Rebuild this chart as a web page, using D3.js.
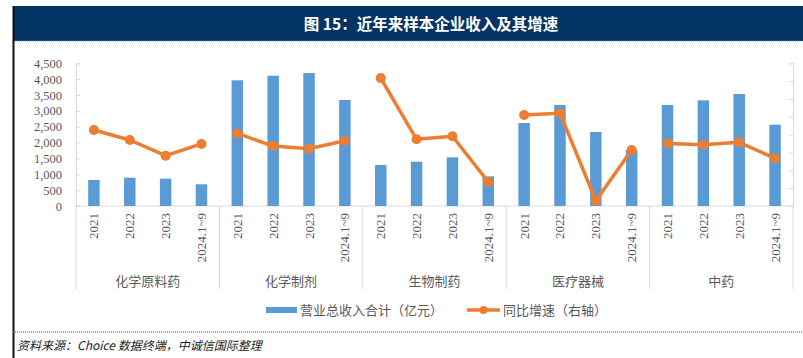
<!DOCTYPE html>
<html><head><meta charset="utf-8">
<script src="https://cdn.jsdelivr.net/npm/d3@7"></script>
<style>body{margin:0;background:#fff;overflow:hidden}</style></head>
<body><svg id="c" width="803" height="358"></svg>
<script>
const groups = ["化学原料药","化学制剂","生物制药","医疗器械","中药"];
const periods = ["2021","2022","2023","2024.1~9"];
const revenue = [
  [820, 892, 861, 684],
  [3963, 4109, 4193, 3342],
  [1293, 1397, 1535, 936],
  [2617, 3185, 2333, 1766],
  [3185, 3333, 3531, 2564]
];
const growth = [
  [12.6, 7.0, -1.8, 4.8],
  [10.7, 3.6, 2.1, 6.6],
  [41.7, 7.4, 9.1, -16.5],
  [21.0, 22.0, -27.0, 1.4],
  [5.1, 4.4, 5.7, -3.3]
];
const leftTicks = [0,500,1000,1500,2000,2500,3000,3500,4000,4500];
const rightTicks = [-30,-20,-10,0,10,20,30,40,50];
const title = "图 15：近年来样本企业收入及其增速";
const legendLabels = ["营业总收入合计（亿元）","同比增速（右轴）"];
const source = "资料来源：Choice 数据终端，中诚信国际整理";

const BLUE = "#5B9BD5", ORANGE = "#ED7D31", GRAY = "#595959", AX = "#D9D9D9";
const CJK = "'Noto Sans CJK SC', sans-serif";
const SERIF = "'Liberation Serif', 'Times New Roman', serif";

const rows = [];
groups.forEach((g, gi) => periods.forEach((p, pi) => rows.push({key: g + "|" + p, g, gi, p, pi, rev: revenue[gi][pi], gr: growth[gi][pi]})));

const svg = d3.select("#c");
const L = 76, R = 793, Y0 = 206, YT = 63.3;

// frame / title
svg.append("rect").attr("x", 13).attr("y", 6).attr("width", 790).attr("height", 35).attr("fill", "#043463");
svg.append("line").attr("x1", 13).attr("x2", 803).attr("y1", 41).attr("y2", 41).attr("stroke", "#7f8fa6").attr("stroke-dasharray", "1,1");
svg.append("line").attr("x1", 13.5).attr("x2", 13.5).attr("y1", 6).attr("y2", 358).attr("stroke", "#111").attr("stroke-width", 2);
svg.append("text").attr("x", 431).attr("y", 29.5).attr("text-anchor", "middle").attr("fill", "#fff")
  .attr("font-family", CJK).attr("font-weight", "bold").attr("font-size", 15.5).text(title);

const x = d3.scaleBand().domain(rows.map(d => d.key)).range([L, R]).padding(0);
const yL = d3.scaleLinear().domain([0, 4500]).range([Y0, YT]);
const yR = d3.scaleLinear().domain([-30, 50]).range([Y0, YT]);

// left axis
const gL = svg.append("g").attr("transform", `translate(${L},0)`)
  .call(d3.axisLeft(yL).tickValues(leftTicks).tickFormat(d3.format(",")).tickSize(-4).tickPadding(14));
gL.select(".domain").attr("stroke", AX);
gL.selectAll(".tick line").attr("stroke", AX);
gL.selectAll("text").attr("fill", GRAY).attr("font-family", SERIF).attr("font-size", 12.5);

// right axis (no labels)
const gR = svg.append("g").attr("transform", `translate(${R},0)`)
  .call(d3.axisRight(yR).tickValues(rightTicks).tickFormat("").tickSize(-4));
gR.select(".domain").attr("stroke", AX);
gR.selectAll(".tick line").attr("stroke", AX);

// x axis baseline + group separators
svg.append("line").attr("x1", L).attr("x2", R).attr("y1", Y0).attr("y2", Y0).attr("stroke", AX).attr("stroke-width", 1.2);
const bw = x.bandwidth();
groups.forEach((g, gi) => {
  const x0 = x(g + "|" + periods[0]);
  svg.append("line").attr("x1", x0).attr("x2", x0).attr("y1", Y0).attr("y2", 289).attr("stroke", AX);
  const xc = x0 + bw * periods.length / 2;
  svg.append("text").attr("x", xc).attr("y", 286).attr("text-anchor", "middle").attr("fill", GRAY)
    .attr("font-family", CJK).attr("font-size", 13).text(g);
});
svg.append("line").attr("x1", R).attr("x2", R).attr("y1", Y0).attr("y2", 289).attr("stroke", AX);

// period labels
svg.selectAll("text.per").data(rows).join("text").attr("class", "per")
  .attr("transform", d => `translate(${x(d.key) + bw / 2 + 4.5},213) rotate(-90)`)
  .attr("text-anchor", "end").attr("fill", GRAY).attr("font-family", SERIF).attr("font-size", 13)
  .text(d => d.p);

// bars
const barW = bw * 0.32;
svg.selectAll("rect.bar").data(rows).join("rect").attr("class", "bar")
  .attr("x", d => x(d.key) + (bw - barW) / 2).attr("width", barW)
  .attr("y", d => yL(d.rev)).attr("height", d => Y0 - yL(d.rev)).attr("fill", BLUE);

// lines
const line = d3.line().x(d => x(d.key) + bw / 2).y(d => yR(d.gr));
groups.forEach((g, gi) => {
  const seg = rows.filter(d => d.gi === gi);
  svg.append("path").datum(seg).attr("d", line).attr("fill", "none").attr("stroke", ORANGE)
    .attr("stroke-width", 3.5).attr("stroke-linejoin", "round");
});
svg.selectAll("circle.pt").data(rows).join("circle").attr("class", "pt")
  .attr("cx", d => x(d.key) + bw / 2).attr("cy", d => yR(d.gr)).attr("r", 5).attr("fill", ORANGE);

// legend
svg.append("rect").attr("x", 266).attr("y", 307).attr("width", 31).attr("height", 6).attr("fill", BLUE);
svg.append("text").attr("x", 300).attr("y", 315).attr("fill", GRAY).attr("font-family", CJK).attr("font-size", 13).text(legendLabels[0]);
svg.append("line").attr("x1", 467).attr("x2", 500).attr("y1", 310).attr("y2", 310).attr("stroke", ORANGE).attr("stroke-width", 3.5);
svg.append("circle").attr("cx", 483.5).attr("cy", 310).attr("r", 4).attr("fill", ORANGE);
svg.append("text").attr("x", 503).attr("y", 315).attr("fill", GRAY).attr("font-family", CJK).attr("font-size", 13).text(legendLabels[1]);

// footer
svg.append("line").attr("x1", 13).attr("x2", 803).attr("y1", 332).attr("y2", 332).attr("stroke", "#555").attr("stroke-dasharray", "1,1");
svg.append("text").attr("x", 17).attr("y", 350).attr("fill", "#222").attr("font-family", CJK).attr("font-style", "italic")
  .attr("font-size", 12).text(source);
</script></body></html>
